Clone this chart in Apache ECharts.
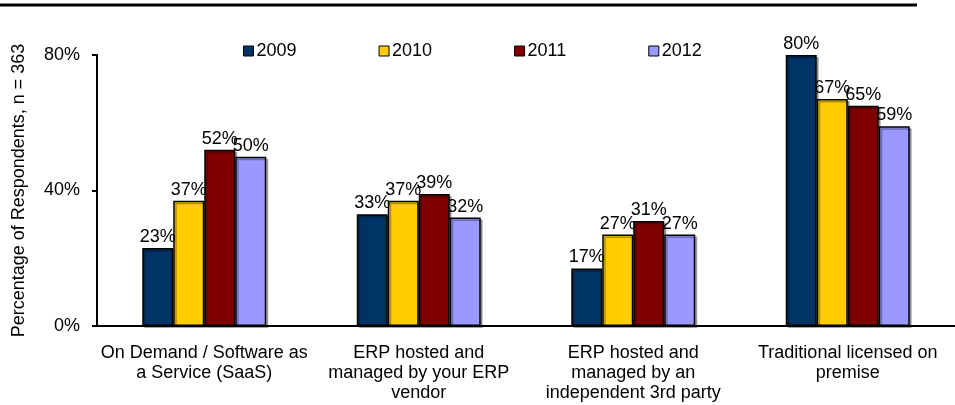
<!DOCTYPE html>
<html>
<head>
<meta charset="utf-8">
<script src="https://cdn.jsdelivr.net/npm/echarts@6/dist/echarts.min.js"></script>
<style>
  html, body { margin: 0; padding: 0; background: #fff; }
  #chart { width: 955px; height: 405px; }
</style>
</head>
<body>
<div id="chart"></div>
<script>
  // categories and values
  const categories = [
    'On Demand / Software as\na Service (SaaS)',
    'ERP hosted and\nmanaged by your ERP\nvendor',
    'ERP hosted and\nmanaged by an\nindependent 3rd party',
    'Traditional licensed on\npremise'
  ];
  const years = ['2009', '2010', '2011', '2012'];
  const values2009 = [23, 33, 17, 80];
  const values2010 = [37, 37, 27, 67];
  const values2011 = [52, 39, 31, 65];
  const values2012 = [50, 32, 27, 59];
  const yTicks = [0, 40, 80];

  const colors = ['#003366', '#ffcc00', '#800000', '#9999ff'];
  const seriesData = [values2009, values2010, values2011, values2012];

  const chart = echarts.init(document.getElementById('chart'));
  const option = {
    animation: false,
    color: colors,
    textStyle: { fontFamily: 'Liberation Sans, Arial, sans-serif' },
    graphic: [
      {
        type: 'line',
        shape: { x1: 0, y1: 5, x2: 917, y2: 5 },
        style: { stroke: '#000', lineWidth: 3 }
      }
    ],
    legend: {
      data: years,
      left: 238,
      top: 37,
      itemWidth: 10,
      itemHeight: 10,
      itemGap: 82,
      icon: 'rect',
      itemStyle: { borderColor: '#000', borderWidth: 1 },
      textStyle: { fontSize: 18, color: '#000', padding: [0, 0, 0, -2] }
    },
    grid: {
      left: 97,
      top: 55,
      height: 271,
      width: 868
    },
    xAxis: {
      type: 'category',
      data: categories,
      axisLine: { lineStyle: { color: '#000', width: 2 } },
      axisTick: { show: false },
      axisLabel: {
        interval: 0,
        color: '#000',
        fontSize: 18,
        lineHeight: 20,
        margin: 17,
        fontFamily: 'Liberation Sans Narrow, Arial Narrow, Liberation Sans, sans-serif'
      }
    },
    yAxis: {
      type: 'value',
      min: yTicks[0],
      max: yTicks[yTicks.length - 1],
      interval: 40,
      name: 'Percentage of Respondents, n = 363',
      nameLocation: 'middle',
      nameRotate: 90,
      nameGap: 69,
      nameTextStyle: { fontSize: 18, color: '#000' },
      splitLine: { show: false },
      axisLine: { show: true, lineStyle: { color: '#000', width: 2 } },
      axisTick: { show: true, length: 5, lineStyle: { color: '#000', width: 2 } },
      axisLabel: {
        color: '#000',
        fontSize: 18,
        margin: 17,
        formatter: '{value}%'
      }
    },
    series: years.map((y, i) => ({
      name: y,
      type: 'bar',
      data: seriesData[i],
      barWidth: 31,
      barGap: '0%',
      itemStyle: {
        borderColor: '#000',
        borderWidth: 1.5,
        shadowColor: 'rgba(0,0,0,0.3)',
        shadowOffsetX: 2,
        shadowOffsetY: 2,
        shadowBlur: 0
      },
      label: {
        show: true,
        position: 'top',
        distance: 2,
        color: '#000',
        fontSize: 18,
        formatter: '{c}%'
      }
    }))
  };
  chart.setOption(option);
  window.addEventListener('resize', function () {
    chart.resize();
  });
</script>
</body>
</html>
